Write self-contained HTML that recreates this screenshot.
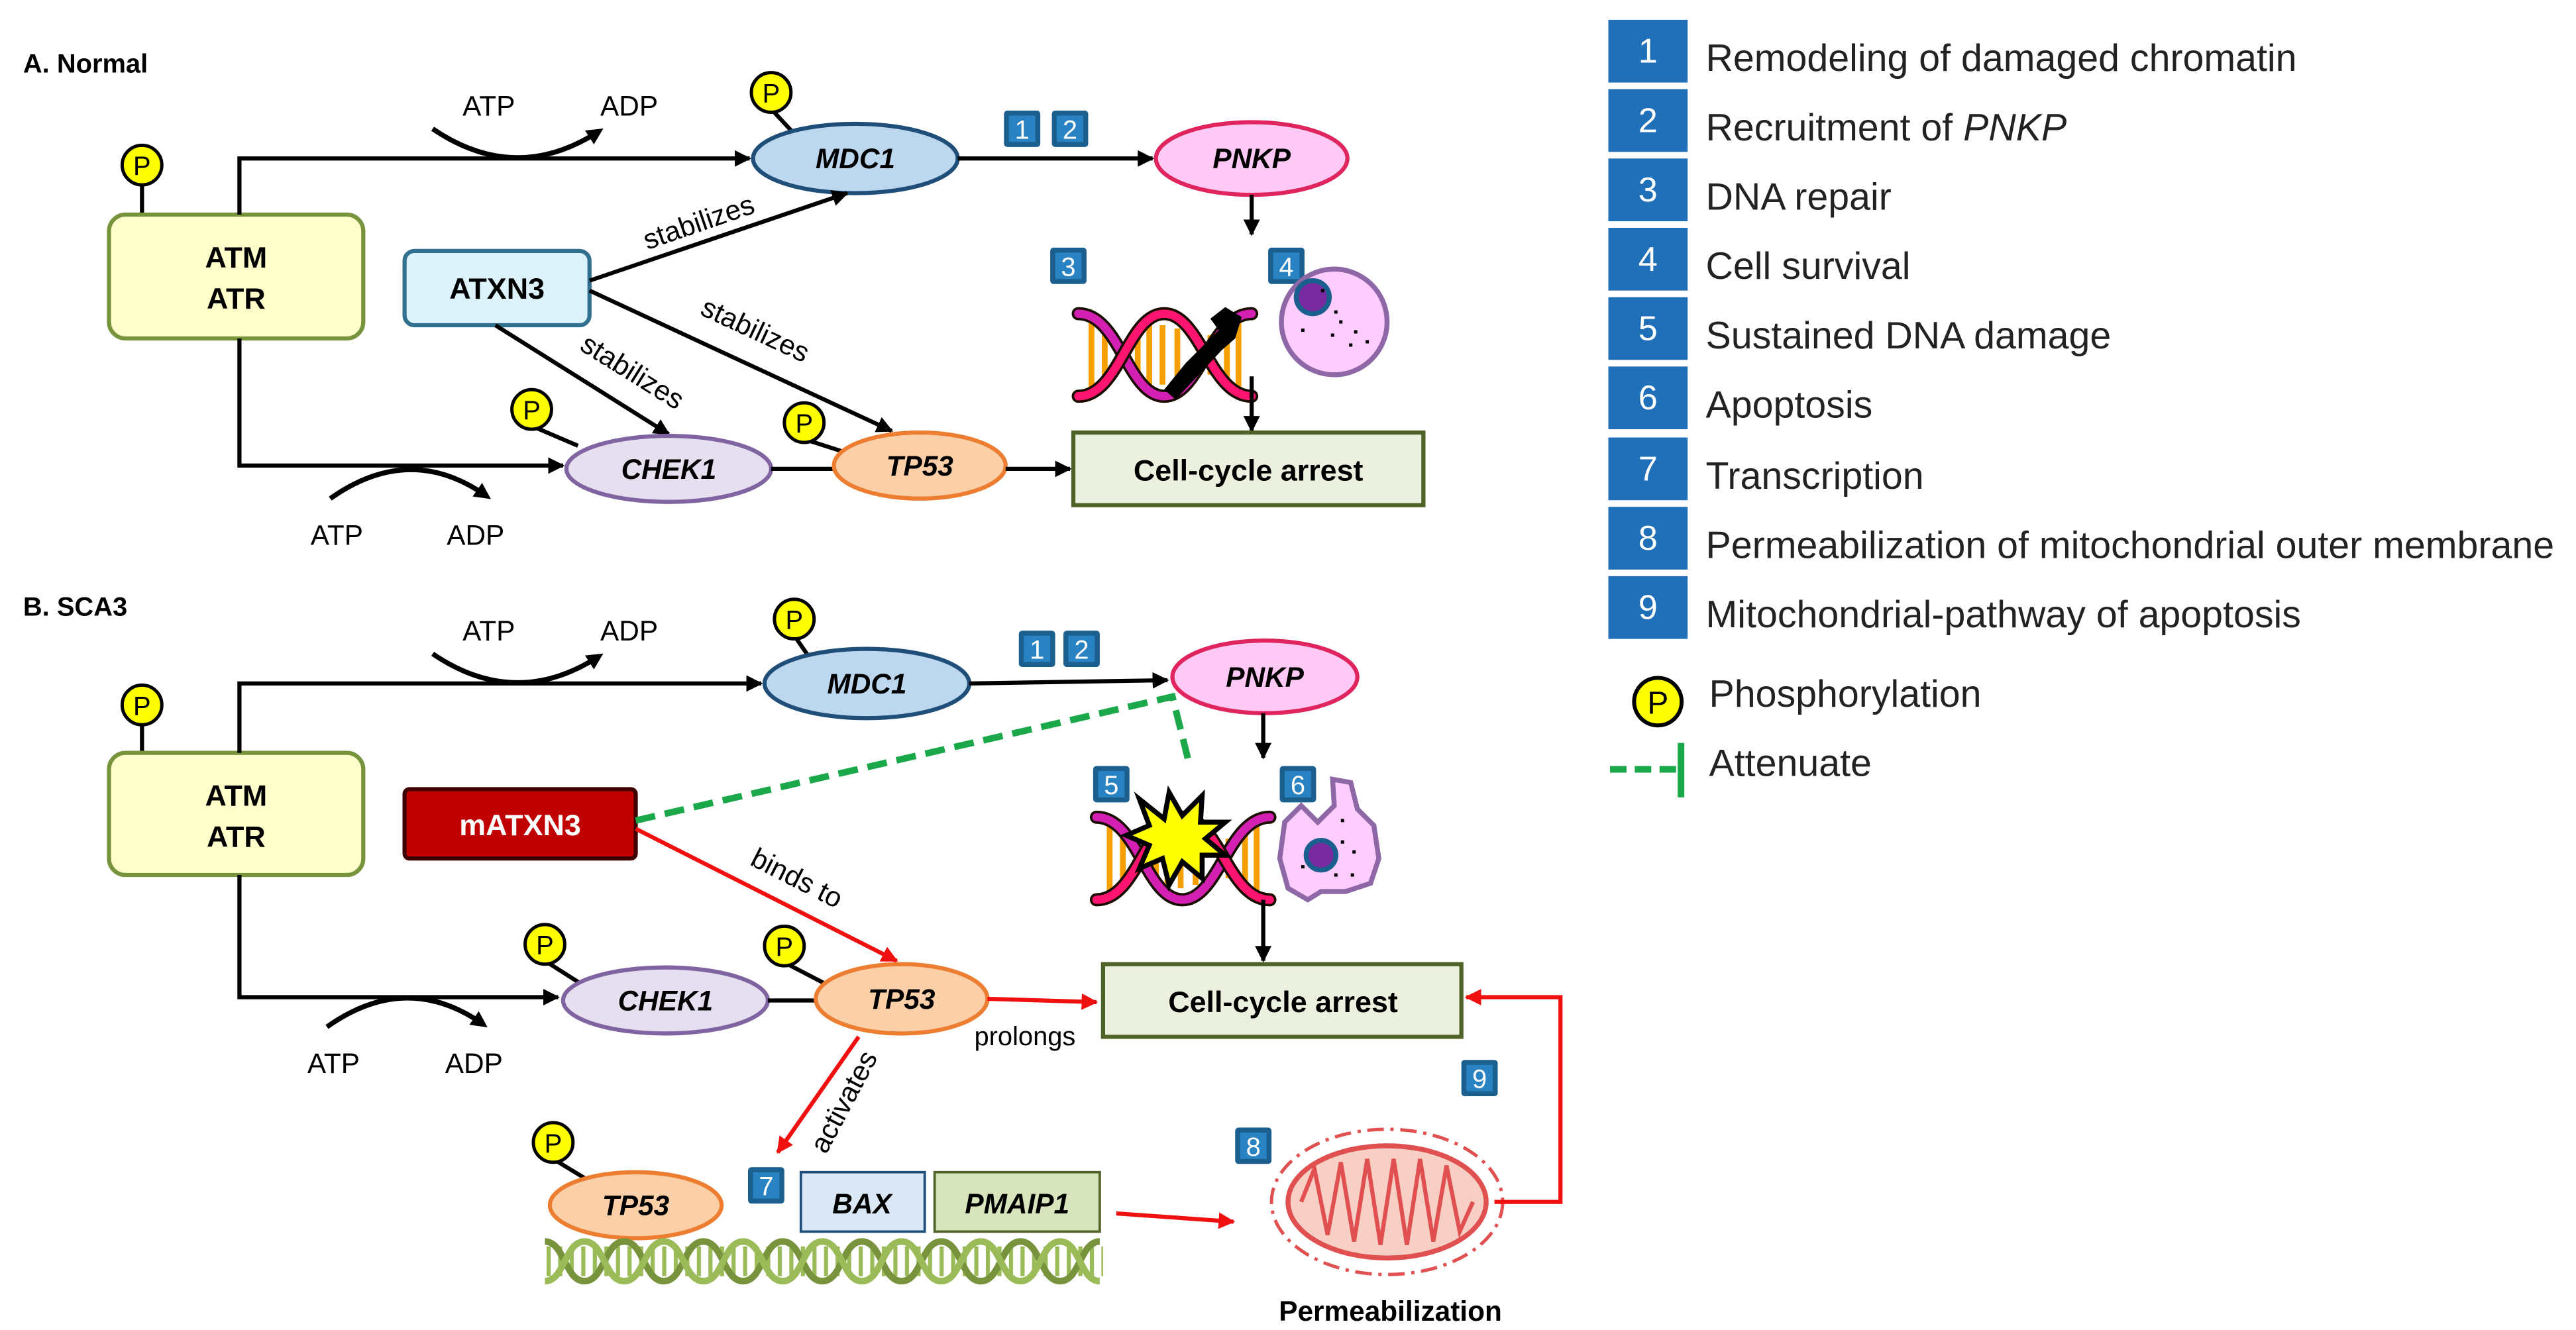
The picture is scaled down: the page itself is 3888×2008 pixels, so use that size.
<!DOCTYPE html>
<html><head><meta charset="utf-8"><style>
html,body{margin:0;padding:0;background:#fff;}
svg{display:block;}
text{font-family:"Liberation Sans",Arial,sans-serif;}
</style></head><body>
<svg width="3888" height="2008" viewBox="0 0 1560 805.6" preserveAspectRatio="none" xmlns="http://www.w3.org/2000/svg">
<defs>
<marker id="ab" markerWidth="10" markerHeight="10" refX="9" refY="5" orient="auto" markerUnits="userSpaceOnUse"><path d="M0,0 L10,5 L0,10 z" fill="#000"/></marker>
<marker id="ar" markerWidth="10" markerHeight="10" refX="9" refY="5" orient="auto" markerUnits="userSpaceOnUse"><path d="M0,0 L10,5 L0,10 z" fill="#f01010"/></marker>
<marker id="hb" markerWidth="12" markerHeight="12" refX="6" refY="6" orient="auto" markerUnits="userSpaceOnUse"><path d="M0,1 L10,6 L0,11 z" fill="#000"/></marker>
<pattern id="rung" width="7" height="10" patternUnits="userSpaceOnUse"><rect width="7" height="10" fill="#fff"/><rect x="2" width="2.5" height="10" fill="#9bbb59"/></pattern>
<g id="P"><circle r="12" fill="#ffff00" stroke="#000" stroke-width="2"/><text y="6" text-anchor="middle" font-size="16">P</text></g>
<g id="helix">
<g stroke="#f5a000" stroke-width="3.5"><line x1="8" y1="10" x2="8" y2="50"/><line x1="16" y1="14" x2="16" y2="46"/><line x1="36" y1="14" x2="36" y2="46"/><line x1="43" y1="12" x2="43" y2="48"/><line x1="51" y1="12" x2="51" y2="48"/><line x1="60" y1="14" x2="60" y2="46"/><line x1="80" y1="18" x2="80" y2="42"/><line x1="90" y1="12" x2="90" y2="48"/><line x1="97" y1="10" x2="97" y2="50"/></g>
<path d="M0,5 C25,5 30,55 52,55 C74,55 80,5 105,5" fill="none" stroke="#1a0d00" stroke-width="8" stroke-linecap="round"/>
<path d="M0,5 C25,5 30,55 52,55 C74,55 80,5 105,5" fill="none" stroke="#d41fb3" stroke-width="5" stroke-linecap="round"/>
<path d="M0,55 C25,55 30,5 52,5 C74,5 80,55 105,55" fill="none" stroke="#1a0d00" stroke-width="8" stroke-linecap="round"/>
<path d="M0,55 C25,55 30,5 52,5 C74,5 80,55 105,55" fill="none" stroke="#ff1470" stroke-width="5" stroke-linecap="round"/>
</g>
</defs>

<!-- ===== A ===== -->
<text x="14" y="44" font-size="16" font-weight="bold">A. Normal</text>
<line x1="86" y1="112" x2="86" y2="130" stroke="#000" stroke-width="2.5"/>
<use href="#P" x="86" y="100"/>
<rect x="66" y="130" width="154" height="75" rx="10" fill="#ffffcc" stroke="#77933c" stroke-width="2.5"/>
<text x="143" y="162" font-size="18" font-weight="bold" text-anchor="middle">ATM</text>
<text x="143" y="187" font-size="18" font-weight="bold" text-anchor="middle">ATR</text>
<path d="M145,130 V96 H454" fill="none" stroke="#000" stroke-width="2.5" marker-end="url(#ab)"/>
<path d="M145,205 V282 H341" fill="none" stroke="#000" stroke-width="2.5" marker-end="url(#ab)"/>
<text x="296" y="70" font-size="17" text-anchor="middle">ATP</text>
<text x="381" y="70" font-size="17" text-anchor="middle">ADP</text>
<path d="M262,78 Q312,112 362,80" fill="none" stroke="#000" stroke-width="3" marker-end="url(#hb)"/>
<text x="204" y="330" font-size="17" text-anchor="middle">ATP</text>
<text x="288" y="330" font-size="17" text-anchor="middle">ADP</text>
<path d="M200,302 Q248,268 294,300" fill="none" stroke="#000" stroke-width="3" marker-end="url(#hb)"/>

<line x1="467" y1="66" x2="480" y2="80" stroke="#000" stroke-width="2.5"/>
<use href="#P" x="467" y="56"/>
<ellipse cx="518" cy="96" rx="62" ry="21" fill="#bdd7ee" stroke="#1f4e79" stroke-width="2.5"/>
<text x="518" y="102" font-size="17" font-weight="bold" font-style="italic" text-anchor="middle">MDC1</text>
<line x1="580" y1="96" x2="698" y2="96" stroke="#000" stroke-width="2.5" marker-end="url(#ab)"/>
<g font-size="16" fill="#fff" text-anchor="middle">
<rect x="608" y="67" width="22" height="22" rx="2" fill="#1b5f8e"/><rect x="611" y="70" width="16" height="16" fill="#2982c2"/><text x="619" y="84">1</text>
<rect x="637" y="67" width="22" height="22" rx="2" fill="#1b5f8e"/><rect x="640" y="70" width="16" height="16" fill="#2982c2"/><text x="648" y="84">2</text>
<rect x="636" y="150" width="22" height="22" rx="2" fill="#1b5f8e"/><rect x="639" y="153" width="16" height="16" fill="#2982c2"/><text x="647" y="167">3</text>
<rect x="768" y="150" width="22" height="22" rx="2" fill="#1b5f8e"/><rect x="771" y="153" width="16" height="16" fill="#2982c2"/><text x="779" y="167">4</text>
</g>
<ellipse cx="758" cy="96" rx="58" ry="22" fill="#ffc9f5" stroke="#e0245e" stroke-width="2.5"/>
<text x="758" y="102" font-size="17" font-weight="bold" font-style="italic" text-anchor="middle">PNKP</text>
<line x1="758" y1="118" x2="758" y2="142" stroke="#000" stroke-width="2.5" marker-end="url(#ab)"/>
<use href="#helix" x="653" y="185"/>
<path d="M718,220 L738,200 L733,193 L742,186 L752,192 L748,205 L740,212 L712,242 L705,236 z" fill="#000"/>
<circle cx="808" cy="195" r="32" fill="#ffccff" stroke="#8e67a6" stroke-width="3"/>
<circle cx="795" cy="180" r="10" fill="#7a2aa0" stroke="#1b5f8e" stroke-width="3"/>
<g fill="#000"><rect x="800" y="175" width="2" height="2"/><rect x="811" y="194" width="2" height="2"/><rect x="820" y="200" width="2" height="2"/><rect x="788" y="199" width="2" height="2"/><rect x="806" y="202" width="2" height="2"/><rect x="817" y="208" width="2" height="2"/><rect x="827" y="206" width="2" height="2"/><rect x="808" y="188" width="2" height="2"/></g>
<line x1="758" y1="228" x2="758" y2="261" stroke="#000" stroke-width="2.5" marker-end="url(#ab)"/>
<rect x="650" y="262" width="212" height="44" fill="#ebf1de" stroke="#4f6228" stroke-width="2.5"/>
<text x="756" y="291" font-size="18" font-weight="bold" text-anchor="middle">Cell-cycle arrest</text>

<rect x="245" y="152" width="112" height="45" rx="6" fill="#ddf3fb" stroke="#31708f" stroke-width="2.5"/>
<text x="301" y="181" font-size="18" font-weight="bold" text-anchor="middle">ATXN3</text>
<line x1="357" y1="170" x2="513" y2="117" stroke="#000" stroke-width="2.5" marker-end="url(#ab)"/>
<text transform="translate(425,140) rotate(-19)" font-size="17" text-anchor="middle">stabilizes</text>
<line x1="357" y1="176" x2="540" y2="261" stroke="#000" stroke-width="2.5" marker-end="url(#ab)"/>
<text transform="translate(455,205) rotate(25)" font-size="17" text-anchor="middle">stabilizes</text>
<line x1="300" y1="197" x2="405" y2="263" stroke="#000" stroke-width="2.5" marker-end="url(#ab)"/>
<text transform="translate(380,230) rotate(32)" font-size="17" text-anchor="middle">stabilizes</text>

<line x1="322" y1="258" x2="350" y2="270" stroke="#000" stroke-width="2.5"/>
<use href="#P" x="322" y="248"/>
<ellipse cx="405" cy="284" rx="62" ry="20" fill="#e6dff0" stroke="#8064a2" stroke-width="2.5"/>
<text x="405" y="290" font-size="17" font-weight="bold" font-style="italic" text-anchor="middle">CHEK1</text>
<line x1="467" y1="284" x2="505" y2="284" stroke="#000" stroke-width="2.5"/>
<line x1="487" y1="266" x2="512" y2="274" stroke="#000" stroke-width="2.5"/>
<use href="#P" x="487" y="256"/>
<ellipse cx="557" cy="282" rx="52" ry="20" fill="#fbcfa8" stroke="#ed7d31" stroke-width="2.5"/>
<text x="557" y="288" font-size="17" font-weight="bold" font-style="italic" text-anchor="middle">TP53</text>
<line x1="609" y1="284" x2="648" y2="284" stroke="#000" stroke-width="2.5" marker-end="url(#ab)"/>

<!-- ===== B ===== -->
<text x="14" y="373" font-size="16" font-weight="bold">B. SCA3</text>
<line x1="86" y1="439" x2="86" y2="456" stroke="#000" stroke-width="2.5"/>
<use href="#P" x="86" y="427"/>
<rect x="66" y="456" width="154" height="74" rx="10" fill="#ffffcc" stroke="#77933c" stroke-width="2.5"/>
<text x="143" y="488" font-size="18" font-weight="bold" text-anchor="middle">ATM</text>
<text x="143" y="513" font-size="18" font-weight="bold" text-anchor="middle">ATR</text>
<path d="M145,456 V414 H461" fill="none" stroke="#000" stroke-width="2.5" marker-end="url(#ab)"/>
<path d="M145,530 V604 H338" fill="none" stroke="#000" stroke-width="2.5" marker-end="url(#ab)"/>
<text x="296" y="388" font-size="17" text-anchor="middle">ATP</text>
<text x="381" y="388" font-size="17" text-anchor="middle">ADP</text>
<path d="M262,396 Q312,430 362,398" fill="none" stroke="#000" stroke-width="3" marker-end="url(#hb)"/>
<text x="202" y="650" font-size="17" text-anchor="middle">ATP</text>
<text x="287" y="650" font-size="17" text-anchor="middle">ADP</text>
<path d="M198,622 Q246,588 292,620" fill="none" stroke="#000" stroke-width="3" marker-end="url(#hb)"/>

<line x1="481" y1="385" x2="490" y2="398" stroke="#000" stroke-width="2.5"/>
<use href="#P" x="481" y="375"/>
<ellipse cx="525" cy="414" rx="62" ry="21" fill="#bdd7ee" stroke="#1f4e79" stroke-width="2.5"/>
<text x="525" y="420" font-size="17" font-weight="bold" font-style="italic" text-anchor="middle">MDC1</text>
<line x1="587" y1="414" x2="707" y2="412" stroke="#000" stroke-width="2.5" marker-end="url(#ab)"/>
<g font-size="16" fill="#fff" text-anchor="middle">
<rect x="617" y="382" width="22" height="22" rx="2" fill="#1b5f8e"/><rect x="620" y="385" width="16" height="16" fill="#2982c2"/><text x="628" y="399">1</text>
<rect x="644" y="382" width="22" height="22" rx="2" fill="#1b5f8e"/><rect x="647" y="385" width="16" height="16" fill="#2982c2"/><text x="655" y="399">2</text>
</g>
<ellipse cx="766" cy="410" rx="56" ry="22" fill="#ffc9f5" stroke="#e0245e" stroke-width="2.5"/>
<text x="766" y="416" font-size="17" font-weight="bold" font-style="italic" text-anchor="middle">PNKP</text>
<line x1="765" y1="432" x2="765" y2="459" stroke="#000" stroke-width="2.5" marker-end="url(#ab)"/>
<g font-size="16" fill="#fff" text-anchor="middle">
<rect x="662" y="464" width="22" height="22" rx="2" fill="#1b5f8e"/><rect x="665" y="467" width="16" height="16" fill="#2982c2"/><text x="673" y="481">5</text>
<rect x="775" y="464" width="22" height="22" rx="2" fill="#1b5f8e"/><rect x="778" y="467" width="16" height="16" fill="#2982c2"/><text x="786" y="481">6</text>
</g>
<use href="#helix" x="664" y="490"/>
<path d="M690,484 L705,496 L708,480 L716,494 L728,482 L727,498 L742,498 L730,508 L742,518 L728,518 L728,532 L716,522 L708,536 L704,520 L690,526 L696,512 L682,506 L696,500 z" fill="#ffff00" stroke="#000" stroke-width="3" stroke-linejoin="miter"/>
<path d="M778,498 L788,488 L798,498 L808,488 L807,472 L818,474 L822,490 L832,500 L835,520 L830,535 L815,540 L800,540 L792,545 L780,538 L775,520 z" fill="#ffccff" stroke="#8e67a6" stroke-width="3"/>
<circle cx="800" cy="518" r="9" fill="#7a2aa0" stroke="#1b5f8e" stroke-width="3"/>
<g fill="#000"><rect x="812" y="496" width="2" height="2"/><rect x="812" y="509" width="2" height="2"/><rect x="819" y="515" width="2" height="2"/><rect x="788" y="524" width="2" height="2"/><rect x="808" y="529" width="2" height="2"/><rect x="818" y="529" width="2" height="2"/></g>
<line x1="765" y1="545" x2="765" y2="582" stroke="#000" stroke-width="2.5" marker-end="url(#ab)"/>
<rect x="668" y="584" width="217" height="44" fill="#ebf1de" stroke="#4f6228" stroke-width="2.5"/>
<text x="777" y="613" font-size="18" font-weight="bold" text-anchor="middle">Cell-cycle arrest</text>

<rect x="245" y="478" width="140" height="42" rx="3" fill="#c00000" stroke="#400000" stroke-width="2.5"/>
<text x="315" y="506" font-size="18" font-weight="bold" fill="#fff" text-anchor="middle">mATXN3</text>
<path d="M385,497 L710,422 L720,462" fill="none" stroke="#1aa84a" stroke-width="4" stroke-dasharray="12,6"/>
<line x1="385" y1="502" x2="543" y2="582" stroke="#f01010" stroke-width="2.5" marker-end="url(#ar)"/>
<text transform="translate(480,537) rotate(27)" font-size="17" text-anchor="middle">binds to</text>

<line x1="330" y1="582" x2="352" y2="596" stroke="#000" stroke-width="2.5"/>
<use href="#P" x="330" y="572"/>
<ellipse cx="403" cy="606" rx="62" ry="20" fill="#e6dff0" stroke="#8064a2" stroke-width="2.5"/>
<text x="403" y="612" font-size="17" font-weight="bold" font-style="italic" text-anchor="middle">CHEK1</text>
<line x1="465" y1="606" x2="494" y2="606" stroke="#000" stroke-width="2.5"/>
<line x1="475" y1="583" x2="500" y2="596" stroke="#000" stroke-width="2.5"/>
<use href="#P" x="475" y="573"/>
<ellipse cx="546" cy="605" rx="52" ry="21" fill="#fbcfa8" stroke="#ed7d31" stroke-width="2.5"/>
<text x="546" y="611" font-size="17" font-weight="bold" font-style="italic" text-anchor="middle">TP53</text>
<line x1="598" y1="605" x2="664" y2="607" stroke="#f01010" stroke-width="2.5" marker-end="url(#ar)"/>
<text x="590" y="633" font-size="16">prolongs</text>
<line x1="520" y1="628" x2="471" y2="698" stroke="#f01010" stroke-width="2.5" marker-end="url(#ar)"/>
<text transform="translate(516,670) rotate(-62)" font-size="17" text-anchor="middle">activates</text>

<g font-size="16" fill="#fff" text-anchor="middle">
<rect x="453" y="707" width="22" height="22" rx="2" fill="#1b5f8e"/><rect x="456" y="710" width="16" height="16" fill="#2982c2"/><text x="464" y="724">7</text>
<rect x="748" y="683" width="22" height="22" rx="2" fill="#1b5f8e"/><rect x="751" y="686" width="16" height="16" fill="#2982c2"/><text x="759" y="700">8</text>
<rect x="885" y="642" width="22" height="22" rx="2" fill="#1b5f8e"/><rect x="888" y="645" width="16" height="16" fill="#2982c2"/><text x="896" y="659">9</text>
</g>
<line x1="335" y1="702" x2="358" y2="716" stroke="#000" stroke-width="2.5"/>
<use href="#P" x="335" y="692"/>
<ellipse cx="385" cy="730" rx="52" ry="20" fill="#fbcfa8" stroke="#ed7d31" stroke-width="2.5"/>
<text x="385" y="736" font-size="17" font-weight="bold" font-style="italic" text-anchor="middle">TP53</text>
<rect x="485" y="710" width="75" height="36" fill="#dae8f5" stroke="#1f4e79" stroke-width="1.5"/>
<text x="522" y="735" font-size="17" font-weight="bold" font-style="italic" text-anchor="middle">BAX</text>
<rect x="566" y="710" width="100" height="36" fill="#d8e4bc" stroke="#4f6228" stroke-width="1.5"/>
<text x="616" y="735" font-size="17" font-weight="bold" font-style="italic" text-anchor="middle">PMAIP1</text>
<rect x="330" y="755" width="338" height="18" fill="url(#rung)"/>
<path d="M330,752 c12,0 12,24 24,24 c12,0 12,-24 24,-24 c12,0 12,24 24,24 c12,0 12,-24 24,-24 c12,0 12,24 24,24 c12,0 12,-24 24,-24 c12,0 12,24 24,24 c12,0 12,-24 24,-24 c12,0 12,24 24,24 c12,0 12,-24 24,-24 c12,0 12,24 24,24 c12,0 12,-24 24,-24 c12,0 12,24 24,24 c12,0 12,-24 24,-24" fill="none" stroke="#77933c" stroke-width="4"/>
<path d="M330,776 c12,0 12,-24 24,-24 c12,0 12,24 24,24 c12,0 12,-24 24,-24 c12,0 12,24 24,24 c12,0 12,-24 24,-24 c12,0 12,24 24,24 c12,0 12,-24 24,-24 c12,0 12,24 24,24 c12,0 12,-24 24,-24 c12,0 12,24 24,24 c12,0 12,-24 24,-24 c12,0 12,24 24,24 c12,0 12,-24 24,-24 c12,0 12,24 24,24" fill="none" stroke="#9bbb59" stroke-width="4"/>
<line x1="676" y1="735" x2="747" y2="740" stroke="#f01010" stroke-width="2.5" marker-end="url(#ar)"/>
<ellipse cx="840" cy="728" rx="70" ry="44" fill="none" stroke="#e05050" stroke-width="2" stroke-dasharray="10,4,2,4"/>
<ellipse cx="840" cy="728" rx="60" ry="34" fill="#f8cfc4" stroke="#e05050" stroke-width="3"/>
<path d="M788,728 L796,708 L804,748 L812,704 L820,752 L828,702 L836,754 L844,702 L852,754 L860,702 L868,752 L876,706 L884,746 L892,728" fill="none" stroke="#e05050" stroke-width="2.5"/>
<text x="842" y="800" font-size="17" font-weight="bold" text-anchor="middle">Permeabilization</text>
<path d="M905,728 H945 V604 H888" fill="none" stroke="#f01010" stroke-width="2.5" marker-end="url(#ar)"/>

<!-- ===== Legend ===== -->
<g font-size="21" fill="#fff" text-anchor="middle">
<rect x="974" y="12" width="48" height="38" fill="#1f70b8"/><text x="998" y="38">1</text>
<rect x="974" y="54" width="48" height="38" fill="#1f70b8"/><text x="998" y="80">2</text>
<rect x="974" y="96" width="48" height="38" fill="#1f70b8"/><text x="998" y="122">3</text>
<rect x="974" y="138" width="48" height="38" fill="#1f70b8"/><text x="998" y="164">4</text>
<rect x="974" y="180" width="48" height="38" fill="#1f70b8"/><text x="998" y="206">5</text>
<rect x="974" y="222" width="48" height="38" fill="#1f70b8"/><text x="998" y="248">6</text>
<rect x="974" y="265" width="48" height="38" fill="#1f70b8"/><text x="998" y="291">7</text>
<rect x="974" y="307" width="48" height="38" fill="#1f70b8"/><text x="998" y="333">8</text>
<rect x="974" y="349" width="48" height="38" fill="#1f70b8"/><text x="998" y="375">9</text>
</g>
<g font-size="23" fill="#222">
<text x="1033" y="43">Remodeling of damaged chromatin</text>
<text x="1033" y="85">Recruitment of <tspan font-style="italic">PNKP</tspan></text>
<text x="1033" y="127">DNA repair</text>
<text x="1033" y="169">Cell survival</text>
<text x="1033" y="211">Sustained DNA damage</text>
<text x="1033" y="253">Apoptosis</text>
<text x="1033" y="296">Transcription</text>
<text x="1033" y="338">Permeabilization of mitochondrial outer membrane</text>
<text x="1033" y="380">Mitochondrial-pathway of apoptosis</text>
<text x="1035" y="428">Phosphorylation</text>
<text x="1035" y="470">Attenuate</text>
</g>
<g transform="translate(1004,425) scale(1.2)"><use href="#P"/></g>
<line x1="975" y1="466" x2="1018" y2="466" stroke="#1aa84a" stroke-width="4" stroke-dasharray="10,5"/>
<line x1="1018" y1="450" x2="1018" y2="483" stroke="#1aa84a" stroke-width="4"/>
</svg>
</body></html>
